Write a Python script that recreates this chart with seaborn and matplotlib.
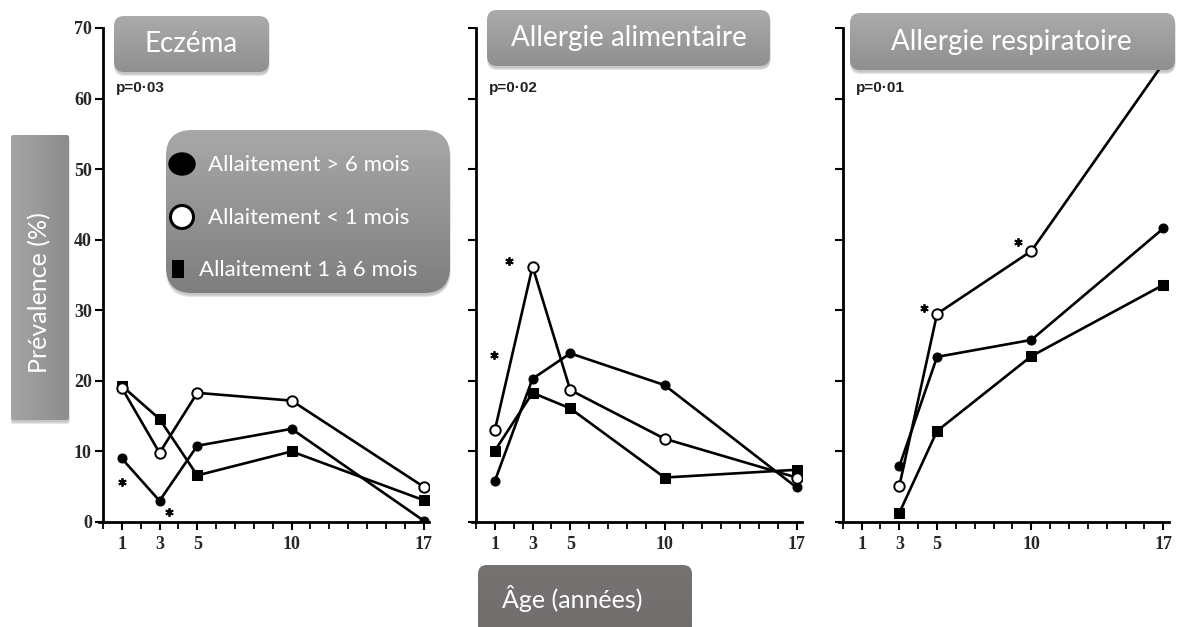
import matplotlib
matplotlib.use("Agg")
import numpy as np
import pandas as pd
import seaborn as sns
import matplotlib.pyplot as plt
from matplotlib.patches import FancyBboxPatch, Ellipse, Rectangle

sns.set_theme(style="ticks")
plt.rcParams["font.family"] = ["Lato", "DejaVu Sans"]

# ---------------- data ----------------
ages = [1, 3, 5, 10, 17]
ages_resp = [3, 5, 10, 17]

ecz_gt6 = [9.0, 3.0, 10.8, 13.2, 0.2]
ecz_lt1 = [19.0, 9.8, 18.3, 17.2, 5.0]
ecz_1to6 = [19.3, 14.6, 6.6, 10.0, 3.1]

food_gt6 = [5.8, 20.3, 23.9, 19.4, 4.9]
food_lt1 = [13.0, 36.2, 18.7, 11.8, 6.3]
food_1to6 = [10.1, 18.3, 16.1, 6.3, 7.4]

resp_gt6 = [7.9, 23.4, 25.8, 41.6]
resp_lt1 = [5.1, 29.5, 38.4, 65.0]
resp_1to6 = [1.3, 12.9, 23.5, 33.6]

ecz_star_x = [1.0, 3.5]
ecz_star_y = [5.7, 1.4]
food_star_x = [0.95, 1.75]
food_star_y = [23.7, 37.0]
resp_star_x = [4.3, 9.3]
resp_star_y = [30.3, 39.7]

titles = ["Eczéma", "Allergie alimentaire", "Allergie respiratoire"]
pvalues = ["p=0·03", "p=0·02", "p=0·01"]
x_ticks = [1, 3, 5, 10, 17]
y_ticks = [0, 10, 20, 30, 40, 50, 60, 70]
legend_labels = ["Allaitement > 6 mois", "Allaitement < 1 mois", "Allaitement 1 à 6 mois"]
y_label = "Prévalence (%)"
x_label = "Âge (années)"

W, H = 1181, 627
fig = plt.figure(figsize=(W / 100, H / 100), dpi=100)
fig.patch.set_facecolor("white")

panels = [
    (ages, ecz_gt6, ecz_lt1, ecz_1to6, ecz_star_x, ecz_star_y, pvalues[0], 99.2),
    (ages, food_gt6, food_lt1, food_1to6, food_star_x, food_star_y, pvalues[1], 472.2),
    (ages_resp, resp_gt6, resp_lt1, resp_1to6, resp_star_x, resp_star_y, pvalues[2], 839.0),
]

tick_font = {"family": "Liberation Serif", "weight": "bold", "size": 13}

for i, (xs, gt6, lt1, m16, sx, sy, pv, left_px) in enumerate(panels):
    ax = fig.add_axes([left_px / W, (H - 522) / H, 330 / W, 494 / H])
    ax.set_facecolor("none")
    df = pd.DataFrame({"age": xs, "gt6": gt6, "lt1": lt1, "m16": m16})
    sns.lineplot(data=df, x="age", y="gt6", ax=ax, color="black", lw=1.9,
                 marker="o", markersize=6.5, markerfacecolor="black",
                 markeredgecolor="black", zorder=3)
    sns.lineplot(data=df, x="age", y="m16", ax=ax, color="black", lw=1.9,
                 marker="s", markersize=6.5, markerfacecolor="black",
                 markeredgecolor="black", zorder=3)
    sns.lineplot(data=df, x="age", y="lt1", ax=ax, color="black", lw=1.9,
                 marker="o", markersize=7.5, markerfacecolor="white",
                 markeredgecolor="black", markeredgewidth=1.4, zorder=4)
    ax.plot(sx, sy, linestyle="none", marker=(6, 2, 0), markersize=6,
            markeredgewidth=1.3, color="black")
    ax.text(0.7, 61.5, pv, fontsize=11, fontweight="bold",
            family="Liberation Sans", va="center", ha="left", color="#222222")

    ax.set_xlim(-0.2, 17.3)
    ax.set_ylim(0, 70)
    ax.set_xlabel("")
    ax.set_ylabel("")
    for s in ["top", "right"]:
        ax.spines[s].set_visible(False)
    ax.spines["left"].set_position(("data", 0))
    ax.spines["left"].set_linewidth(2)
    ax.spines["bottom"].set_linewidth(2)
    ax.spines["left"].set_color("black")
    ax.spines["bottom"].set_color("black")
    ax.set_xticks(x_ticks)
    ax.set_xticks(range(0, 18), minor=True)
    ax.set_yticks(y_ticks)
    ax.tick_params(axis="both", which="major", direction="out", length=6,
                   width=1.5, color="black", pad=4)
    ax.tick_params(axis="y", which="major", pad=2)
    ax.tick_params(axis="x", which="minor", direction="out", length=5,
                   width=1.3, color="black")
    ax.set_xticklabels([str(t) for t in x_ticks], fontdict=tick_font)
    if i == 0:
        ax.set_yticklabels([str(t) for t in y_ticks], fontdict=tick_font)
    else:
        ax.set_yticklabels([])
    ax.grid(False)

# ---------------- overlay boxes (pixel coordinates, y downward) ----------------
ov = fig.add_axes([0, 0, 1, 1], zorder=10)
ov.set_facecolor("none")
ov.axis("off")


def grad_box(x, y, w, h, c_top, c_bot, r, shadow=True, horizontal=False):
    style = f"round,pad=0,rounding_size={r}"
    if shadow:
        for k, a in enumerate([0.06, 0.08, 0.10]):
            ov.add_patch(FancyBboxPatch((x + 1 - k * 0.5, y + 2 + k), w, h, boxstyle=style,
                                        fc=(0, 0, 0, a), ec="none"))
    patch = FancyBboxPatch((x, y), w, h, boxstyle=style, fc="none", ec="none")
    ov.add_patch(patch)
    t = np.linspace(0, 1, 256)
    c1 = np.array(matplotlib.colors.to_rgb(c_top))
    c2 = np.array(matplotlib.colors.to_rgb(c_bot))
    g = c1[None, :] * (1 - t[:, None]) + c2[None, :] * t[:, None]
    if horizontal:
        img_data = g[None, :, :]
    else:
        img_data = g[:, None, :]
    im = ov.imshow(img_data, extent=[x, x + w, y + h, y], aspect="auto",
                   interpolation="bilinear", zorder=2)
    im.set_clip_path(patch)


# titles
grad_box(114, 16, 155, 56, "#ababab", "#8f8f8f", 10)
ov.text(191, 44, titles[0], color="white", fontsize=20, ha="center", va="center", zorder=5)
grad_box(487, 10, 283, 56, "#ababab", "#8f8f8f", 10)
ov.text(629, 38, titles[1], color="white", fontsize=20, ha="center", va="center", zorder=5)
grad_box(850, 13, 325, 57, "#ababab", "#8f8f8f", 10)
ov.text(1011, 42, titles[2], color="white", fontsize=20, ha="center", va="center", zorder=5)

# legend box
grad_box(166, 130, 284, 163, "#a8a8a8", "#7e7e7e", 26)
ov.add_patch(Ellipse((182, 164), 26, 22, fc="black", ec="black", zorder=5))
ov.add_patch(Ellipse((182, 217), 23, 23, fc="white", ec="black", lw=2.2, zorder=5))
ov.add_patch(Rectangle((172, 260), 12, 18, fc="black", ec="none", zorder=5))
ov.text(208, 165, legend_labels[0], color="white", fontsize=16, ha="left", va="center", zorder=5)
ov.text(208, 218, legend_labels[1], color="white", fontsize=16, ha="left", va="center", zorder=5)
ov.text(199, 270, legend_labels[2], color="white", fontsize=16, ha="left", va="center", zorder=5)

# y label box
grad_box(11, 135, 58, 285, "#a5a5a5", "#8c8c8c", 2, shadow=True, horizontal=True)
ov.text(40, 293, y_label, color="white", fontsize=18, rotation=90,
        ha="center", va="center", zorder=5)

# x label box
grad_box(478, 565, 214, 80, "#767272", "#716d6d", 9, shadow=False)
ov.text(572, 598, x_label, color="white", fontsize=18, ha="center", va="center", zorder=5)

ov.set_xlim(0, W)
ov.set_ylim(H, 0)

fig.savefig("out.png", dpi=100)
